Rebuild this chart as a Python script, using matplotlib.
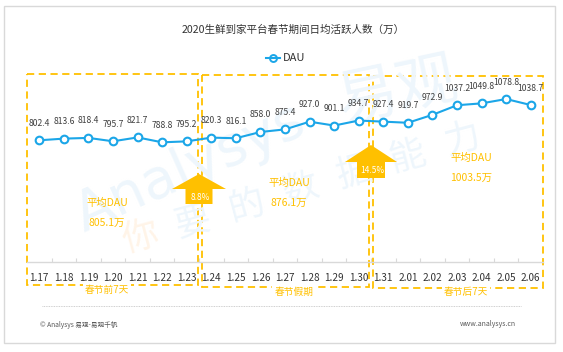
import matplotlib
matplotlib.use('Agg')
import matplotlib.pyplot as plt
from matplotlib.patches import Rectangle, Polygon
from matplotlib.lines import Line2D

plt.rcParams['font.family'] = ['Noto Sans CJK SC', 'DejaVu Sans']
NUM_FONT = ['Liberation Sans Narrow', 'Noto Sans CJK SC', 'DejaVu Sans']

# data
dates = ['1.17', '1.18', '1.19', '1.20', '1.21', '1.22', '1.23',
         '1.24', '1.25', '1.26', '1.27', '1.28', '1.29', '1.30',
         '1.31', '2.01', '2.02', '2.03', '2.04', '2.05', '2.06']
dau = [802.4, 813.6, 818.4, 795.7, 821.7, 788.8, 795.2,
       820.3, 816.1, 858.0, 875.4, 927.0, 901.1, 934.7,
       927.4, 919.7, 972.9, 1037.2, 1049.8, 1078.8, 1038.7]
period_names = ['春节前7天', '春节假期', '春节后7天']
period_avg = ['805.1万', '876.1万', '1003.5万']
growth = ['8.8%', '14.5%']

BLUE = '#1BA6E8'
GOLD = '#FFC000'

fig = plt.figure(figsize=(5.63, 3.52), dpi=100)

# overlay in pixel coords (y down)
ov = fig.add_axes([0, 0, 1, 1])
ov.set_xlim(0, 563)
ov.set_ylim(352, 0)
ov.axis('off')

# outer frame
ov.add_patch(Rectangle((4, 6), 551, 337, fill=False, ec='#D9D9D9', lw=1))

# watermark
WM = '#EEF6FC'
ov.text(190, 168, 'Analysys', fontsize=40, color=WM, rotation=24,
        ha='center', va='center', family='DejaVu Sans')
ov.text(398, 92, '易观', fontsize=44, color=WM, rotation=12,
        ha='center', va='center')
wm_chars = '你要的数据能力'
for k, ch in enumerate(wm_chars):
    x = 140 + k * (462 - 140) / 6
    y = 238 - k * (238 - 140) / 6
    ov.text(x, y, ch, fontsize=26, color='#FFF4E8' if k == 0 else WM,
            rotation=15, ha='center', va='center')

# title + legend
ov.text(293, 30, '2020生鲜到家平台春节期间日均活跃人数（万）', fontsize=7.6,
        color='#333333', ha='center', va='center')
ov.add_line(Line2D([266, 280], [58, 58], color=BLUE, lw=1.5, zorder=3))
ov.plot([273], [58], marker='o', ms=5, mfc='white', mec=BLUE, mew=1.4)
ov.text(283, 58, 'DAU', fontsize=8, color='#333333', ha='left', va='center',
        family=NUM_FONT)

# period boxes
boxes = [(27, 198, 74, 285, 107, 290),
         (202, 369, 75, 287, 294, 292),
         (373, 543, 76, 288, 466, 292)]
for (x0, x1, y0, y1, tx, ty), name in zip(boxes, period_names):
    ov.add_patch(Rectangle((x0, y0), x1 - x0, y1 - y0, fill=False, ec=GOLD,
                           lw=1.3, ls=(0, (4, 2.5))))
    ov.text(tx, ty, name, fontsize=7, color=GOLD, ha='center', va='center',
            bbox=dict(fc='white', ec='none', pad=1.5))

# average labels
avg_pos = [(107, 203, 223), (289, 183, 203), (471, 158, 178)]
for (x, y1, y2), avg in zip(avg_pos, period_avg):
    ov.text(x, y1, '平均DAU', fontsize=7.5, color=GOLD, ha='center', va='center')
    ov.text(x, y2, avg, fontsize=7.5, color=GOLD, ha='center', va='center')

# growth arrows
arrows = [(199, 174, 189, 27, 13.5, 204), (371, 145, 162, 26, 14, 178)]
for (cx, top, hb, hw, sw, bot), g in zip(arrows, growth):
    pts = [(cx, top), (cx + hw, hb), (cx + sw, hb), (cx + sw, bot),
           (cx - sw, bot), (cx - sw, hb), (cx - hw, hb)]
    ov.add_patch(Polygon(pts, closed=True, fc=GOLD, ec='none', zorder=4))
    ov.text(cx + 1, (hb + bot) / 2 + 0.5, g, fontsize=6, color='white',
            ha='center', va='center', zorder=5, family=NUM_FONT)

# footer
ov.plot([42, 521], [306, 306], color='#BFBFBF', lw=0.6, ls=(0, (1, 1)))
ov.text(40, 325, '© Analysys 易观-易观千帆', fontsize=4.8, color='#595959',
        ha='left', va='center')
ov.text(516, 324, 'www.analysys.cn', fontsize=5, color='#595959',
        ha='right', va='center')

# main chart
ax = fig.add_axes([27 / 563, 90 / 352, 516 / 563, 213 / 352])
ax.patch.set_visible(False)
xs = list(range(len(dates)))
ax.plot(xs, dau, color=BLUE, lw=1.5, marker='o', ms=5.5, mfc='white',
        mec=BLUE, mew=1.5, zorder=3)
for x, v in zip(xs, dau):
    ax.annotate(f'{v:.1f}', (x, v), xytext=(0, 17), textcoords='offset pixels',
                ha='center', va='center', fontsize=6.2, color='#404040',
                family=NUM_FONT)
ax.set_xlim(-0.5, len(dates) - 0.5)
ax.set_ylim(-13, 1414)
ax.set_xticks(xs)
ax.set_xticklabels(dates, family=NUM_FONT, fontsize=7.2, color='#333333')
ax.set_xticks([i + 0.5 for i in range(len(dates) - 1)], minor=True)
ax.tick_params(axis='x', which='major', length=0, pad=8)
ax.tick_params(axis='x', which='minor', direction='in', length=3,
               color='#D9D9D9', width=0.8)
ax.set_yticks([])
for s in ['top', 'right', 'left']:
    ax.spines[s].set_visible(False)
ax.spines['bottom'].set_color('#D9D9D9')
ax.spines['bottom'].set_linewidth(1)

fig.savefig('out.png', dpi=100)
